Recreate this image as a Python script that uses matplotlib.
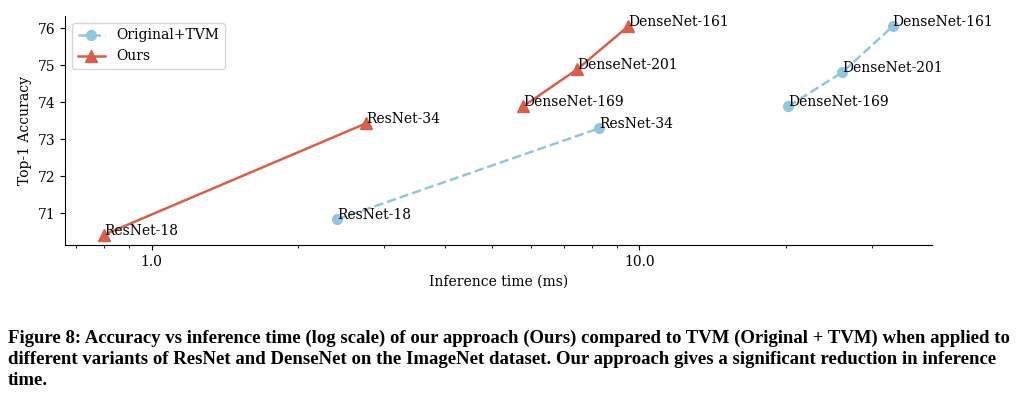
import matplotlib.pyplot as plt
from matplotlib.ticker import FormatStrFormatter, NullFormatter

models_res = ['ResNet-18', 'ResNet-34']
models_dense = ['DenseNet-169', 'DenseNet-201', 'DenseNet-161']

# Original + TVM
tvm_time = [2.40, 8.28, 20.2, 26.1, 33.1]
tvm_acc = [70.84, 73.30, 73.89, 74.81, 76.05]

# ours
ours_time = [0.80, 2.75, 5.78, 7.46, 9.49]
ours_acc = [70.43, 73.43, 73.89, 74.89, 76.05]

labels = models_res + models_dense

blue = '#92c5de'
red = '#d6604d'

plt.rcParams['font.family'] = 'DejaVu Serif'
plt.rcParams['font.size'] = 10

fig = plt.figure(figsize=(10.18, 3.97), dpi=100)
ax = fig.add_axes([0.0639, 0.3829, 0.8516, 0.5768])

# resnets and densenets are drawn as separate line pieces
ax.plot(tvm_time[:2], tvm_acc[:2], '--o', color=blue, lw=1.8, ms=7, label='Original+TVM')
ax.plot(tvm_time[2:], tvm_acc[2:], '--o', color=blue, lw=1.8, ms=7)
ax.plot(ours_time[:2], ours_acc[:2], '-^', color=red, lw=1.8, ms=8, label='Ours')
ax.plot(ours_time[2:], ours_acc[2:], '-^', color=red, lw=1.8, ms=8)

for i, lab in enumerate(labels):
    ax.text(tvm_time[i], tvm_acc[i], lab)
    ax.text(ours_time[i], ours_acc[i], lab)

ax.set_xscale('log')
ax.xaxis.set_major_formatter(FormatStrFormatter('%.1f'))
ax.xaxis.set_minor_formatter(NullFormatter())
ax.set_xlabel('Inference time (ms)')
ax.set_ylabel('Top-1 Accuracy')
ax.spines['top'].set_visible(False)
ax.spines['right'].set_visible(False)
ax.legend(loc='upper left')

caption = ('Figure 8: Accuracy vs inference time (log scale) of our approach (Ours) compared to TVM (Original + TVM) when applied to\n'
           'different variants of ResNet and DenseNet on the ImageNet dataset. Our approach gives a significant reduction in inference\n'
           'time.')
fig.text(0.008, 0.094, caption, family='Liberation Serif', weight='bold', fontsize=13.5,
         va='center', ha='left', linespacing=1.3)

fig.savefig('out.png', dpi=100)
